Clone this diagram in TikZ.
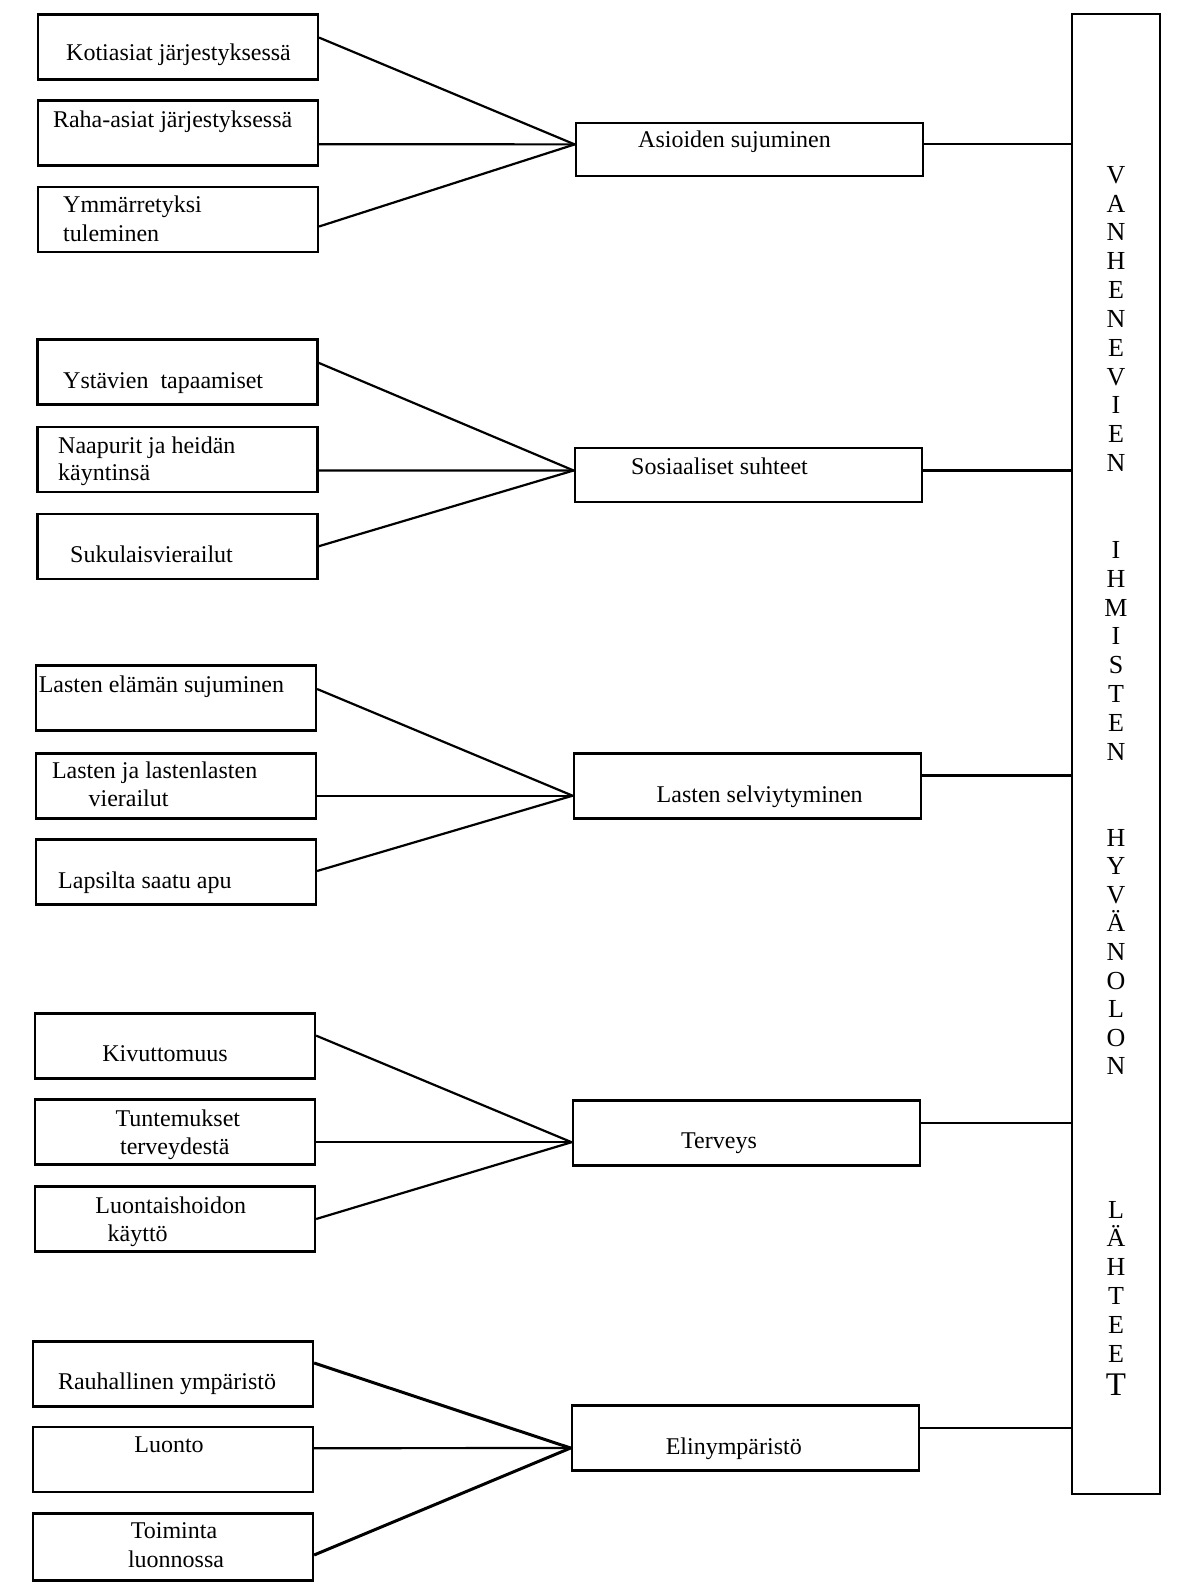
\documentclass[tikz,border=0pt]{standalone}
\usepackage{fontspec}
\setmainfont{Liberation Serif}

\newcommand{\bodyfont}{\fontsize{24}{28.5}\selectfont}
\newcommand{\barfont}{\fontsize{26}{26}\selectfont}
\newcommand{\bigfont}{\fontsize{33}{33}\selectfont}

\tikzset{
	leaf/.style={draw, line width=2.6pt, minimum width=280pt, minimum height=65pt, inner sep=0pt},
	hub/.style={draw, line width=2.6pt, minimum width=347pt, inner sep=0pt},
	lbl/.style={anchor=base west, inner sep=0pt, font=\bodyfont},
	clbl/.style={anchor=base, inner sep=0pt, font=\bodyfont},
	letter/.style={anchor=base, inner sep=0pt, font=\barfont},
	link/.style={line width=2.2pt},
	heavylink/.style={line width=3pt}
}

\begin{document}
\begin{tikzpicture}[x=1pt, y=-1pt]
	\useasboundingbox (0,0) rectangle (1180,1594);
	
	% Rechte Saeule
	\node[draw, line width=2.6pt, minimum width=88pt, minimum height=1480pt, inner sep=0pt] (bar) at (1116,754) {};
	\foreach \c [count=\i from 0] in {V,A,N,H,E,N,E,V,I,E,N} {
		\node[letter] (vanh\i) at (1116,{183.4+28.8*\i}) {\c};
	}
	\foreach \c [count=\i from 0] in {I,H,M,I,S,T,E,N} {
		\node[letter] (ihm\i) at (1116,{558.4+28.8*\i}) {\c};
	}
	\foreach \c [count=\i from 0] in {H,Y,V,Ä,N,O,L,O,N} {
		\node[letter] (hyv\i) at (1116,{846+28.6*\i}) {\c};
	}
	\foreach \c [count=\i from 0] in {L,Ä,H,T,E,E} {
		\node[letter] (laht\i) at (1116,{1218+28.8*\i}) {\c};
	}
	\node[letter, font=\bigfont] (laht6) at (1116,1395) {T};
	
	% Gruppe 1
	\node[leaf] (kotiasiat) at (177.8,46.8) {};
	\node[leaf] (raha) at (177.8,133.2) {};
	\node[leaf] (ymmarrys) at (177.8,219.5) {};
	\node[hub, minimum height=53pt] (asioiden) at (749.5,149.4) {};
	\node[lbl] (kotiasiat-t) at (66,60.8) {Kotiasiat järjestyksessä};
	\node[lbl] (raha-t) at (52.8,128) {Raha-asiat järjestyksessä};
	\node[lbl] (ymmarrys-t1) at (63,213) {Ymmärretyksi};
	\node[lbl] (ymmarrys-t2) at (63,241.7) {tuleminen};
	\node[lbl] (asioiden-t) at (638,148) {Asioiden sujuminen};
	\coordinate (asioiden-in) at ([yshift=5pt]asioiden.west);
	\coordinate (asioiden-out) at ([yshift=5pt]asioiden.east);
	\draw[link] ([yshift=9.2pt]kotiasiat.east) -- (asioiden-in);
	\draw[link] ([yshift=-11pt]raha.east) -- (asioiden-in);
	\draw[link] ([yshift=-7pt]ymmarrys.east) -- (asioiden-in);
	\draw[link] (asioiden-out) -- (asioiden-out -| bar.west);
	
	% Gruppe 2
	\node[leaf] (ystavat) at (177.3,372) {};
	\node[leaf] (naapurit) at (177.3,459.4) {};
	\node[leaf] (suku) at (177.3,546.3) {};
	\node[hub, minimum height=54pt] (sosiaaliset) at (748.4,475.1) {};
	\node[lbl] (ystavat-t) at (63,388) {Ystävien\enspace tapaamiset};
	\node[lbl] (naapurit-t1) at (58,453) {Naapurit ja heidän};
	\node[lbl] (naapurit-t2) at (58,480.6) {käyntinsä};
	\node[lbl] (suku-t) at (70,562) {Sukulaisvierailut};
	\node[lbl] (sosiaaliset-t) at (631,474.5) {Sosiaaliset suhteet};
	\coordinate (sosiaaliset-in) at ([yshift=4.6pt]sosiaaliset.west);
	\coordinate (sosiaaliset-out) at ([yshift=4.6pt]sosiaaliset.east);
	\draw[link] ([yshift=9.2pt]ystavat.east) -- (sosiaaliset-in);
	\draw[link] ([yshift=-11pt]naapurit.east) -- (sosiaaliset-in);
	\draw[link] (suku.east) -- (sosiaaliset-in);
	\draw[link] (sosiaaliset-out) -- (sosiaaliset-out -| bar.west);
	
	% Gruppe 3
	\node[leaf] (lelama) at (175.8,698.2) {};
	\node[leaf] (lvierailut) at (175.8,785.7) {};
	\node[leaf] (lapu) at (175.8,872) {};
	\node[hub, minimum height=65pt] (lselviytyminen) at (747.4,785.7) {};
	\node[lbl] (lelama-t) at (38.6,692) {Lasten elämän sujuminen};
	\node[lbl] (lvierailut-t1) at (51.8,778.4) {Lasten ja lastenlasten};
	\node[lbl] (lvierailut-t2) at (88.4,806.8) {vierailut};
	\node[lbl] (lapu-t) at (58,888) {Lapsilta saatu apu};
	\node[lbl] (lselviytyminen-t) at (656.5,802.7) {Lasten selviytyminen};
	\coordinate (lselviytyminen-in) at ([yshift=-10pt]lselviytyminen.west);
	\coordinate (lselviytyminen-out) at ([yshift=10.3pt]lselviytyminen.east);
	\draw[link] ([yshift=9.2pt]lelama.east) -- (lselviytyminen-in);
	\draw[link] ([yshift=-10pt]lvierailut.east) -- (lselviytyminen-in);
	\draw[link] ([yshift=1pt]lapu.east) -- (lselviytyminen-in);
	\draw[link] (lselviytyminen-out) -- (lselviytyminen-out -| bar.west);
	
	% Gruppe 4
	\node[leaf] (kivut) at (174.8,1045.8) {};
	\node[leaf] (tuntemukset) at (174.8,1132.2) {};
	\node[leaf] (luontais) at (174.8,1219) {};
	\node[hub, minimum height=65pt] (terveys) at (746.4,1133.2) {};
	\node[clbl] (kivut-t) at (165,1061) {Kivuttomuus};
	\node[clbl] (tuntemukset-t1) at (177.9,1126) {Tuntemukset};
	\node[clbl] (tuntemukset-t2) at (174.8,1154.4) {terveydestä};
	\node[clbl] (luontais-t1) at (170.8,1213.3) {Luontaishoidon};
	\node[clbl] (luontais-t2) at (137.7,1241.8) {käyttö};
	\node[clbl] (terveys-t) at (719,1148.3) {Terveys};
	\coordinate (terveys-in) at ([yshift=-9pt]terveys.west);
	\coordinate (terveys-out) at ([yshift=10pt]terveys.east);
	\draw[link] ([yshift=10.2pt]kivut.east) -- (terveys-in);
	\draw[link] ([yshift=-10pt]tuntemukset.east) -- (terveys-in);
	\draw[link] (luontais.east) -- (terveys-in);
	\draw[link] (terveys-out) -- (terveys-out -| bar.west);
	
	% Gruppe 5
	\node[leaf] (rauha) at (172.8,1374) {};
	\node[leaf] (luonto) at (172.8,1459.5) {};
	\node[leaf, minimum height=67pt] (toiminta) at (172.8,1546.7) {};
	\node[hub, minimum height=65pt] (elinymp) at (745.4,1438) {};
	\node[clbl] (rauha-t) at (167,1389) {Rauhallinen ympäristö};
	\node[clbl] (luonto-t) at (169,1452) {Luonto};
	\node[clbl] (toiminta-t1) at (174,1538.5) {Toiminta};
	\node[clbl] (toiminta-t2) at (176,1567) {luonnossa};
	\node[clbl] (elinymp-t) at (733.8,1454) {Elinympäristö};
	\coordinate (elinymp-in) at ([yshift=-10pt]elinymp.west);
	\coordinate (elinymp-out) at ([yshift=10pt]elinymp.east);
	\draw[heavylink] ([yshift=11pt]rauha.east) -- (elinymp-in);
	\draw[link] ([yshift=11.3pt]luonto.east) -- (elinymp-in);
	\draw[heavylink] ([yshift=-8.3pt]toiminta.east) -- (elinymp-in);
	\draw[link] (elinymp-out) -- (elinymp-out -| bar.west);
	
\end{tikzpicture}
\end{document}
